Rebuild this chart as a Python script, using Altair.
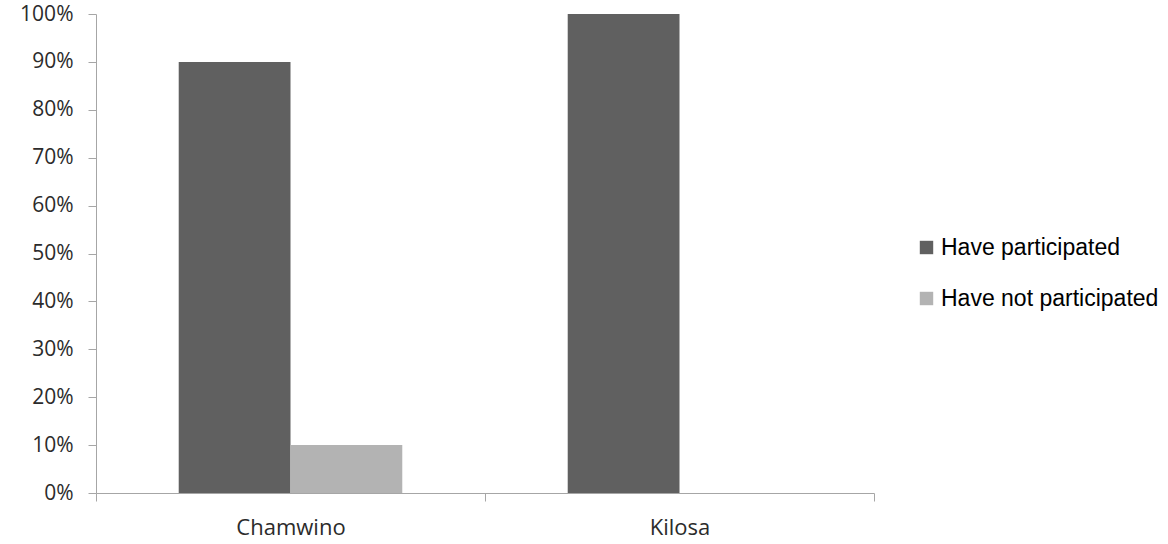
import altair as alt
import pandas as pd

districts = ["Chamwino", "Kilosa"]
groups = ["Have participated", "Have not participated"]
participated = [0.90, 1.00]
not_participated = [0.10, 0.00]
palette = ["#606060", "#b3b3b3"]

rows = []
for i, d in enumerate(districts):
    rows.append({"district": d, "group": groups[0], "share": participated[i]})
    rows.append({"district": d, "group": groups[1], "share": not_participated[i]})
df = pd.DataFrame(rows)

axis_gray = "#a6a6a6"
label_font = "Open Sans"

chart = (
    alt.Chart(df)
    .mark_bar()
    .encode(
        x=alt.X(
            "district:N",
            sort=districts,
            scale=alt.Scale(paddingInner=0, paddingOuter=0),
            axis=alt.Axis(
                title=None,
                labelAngle=0,
                tickBand="extent",
                domainColor=axis_gray,
                tickColor=axis_gray,
                tickSize=8,
                labelPadding=16,
                labelFont=label_font,
                labelFontSize=22,
                labelColor="#2b2b2b",
            ),
        ),
        xOffset=alt.XOffset(
            "group:N",
            sort=groups,
            scale=alt.Scale(paddingInner=0, paddingOuter=0.74),
        ),
        y=alt.Y(
            "share:Q",
            scale=alt.Scale(domain=[0, 1], nice=False),
            axis=alt.Axis(
                title=None,
                format=".0%",
                values=[i / 10 for i in range(11)],
                grid=False,
                domainColor=axis_gray,
                tickColor=axis_gray,
                tickSize=8,
                labelPadding=15,
                labelFont=label_font,
                labelFontSize=21,
                labelColor="#2b2b2b",
            ),
        ),
        color=alt.Color(
            "group:N",
            sort=groups,
            scale=alt.Scale(domain=groups, range=palette),
            legend=alt.Legend(
                title=None,
                orient="none",
                legendX=819,
                legendY=222,
                padding=0,
                symbolType="square",
                symbolSize=180,
                symbolStrokeWidth=0,
                labelFont="Liberation Sans",
                labelFontSize=23,
                labelLimit=400,
                labelColor="#000000",
                labelOffset=3,
                rowPadding=27,
            ),
        ),
    )
    .properties(
        width=778,
        height=479,
        autosize=alt.AutoSizeParams(type="none"),
        padding={"left": 96, "top": 14, "right": 294, "bottom": 51},
    )
    .configure_view(stroke=None)
    .configure_axis(domainWidth=1, tickWidth=1)
)

chart.save("out.html", embed_options={"renderer": "svg", "actions": False})
